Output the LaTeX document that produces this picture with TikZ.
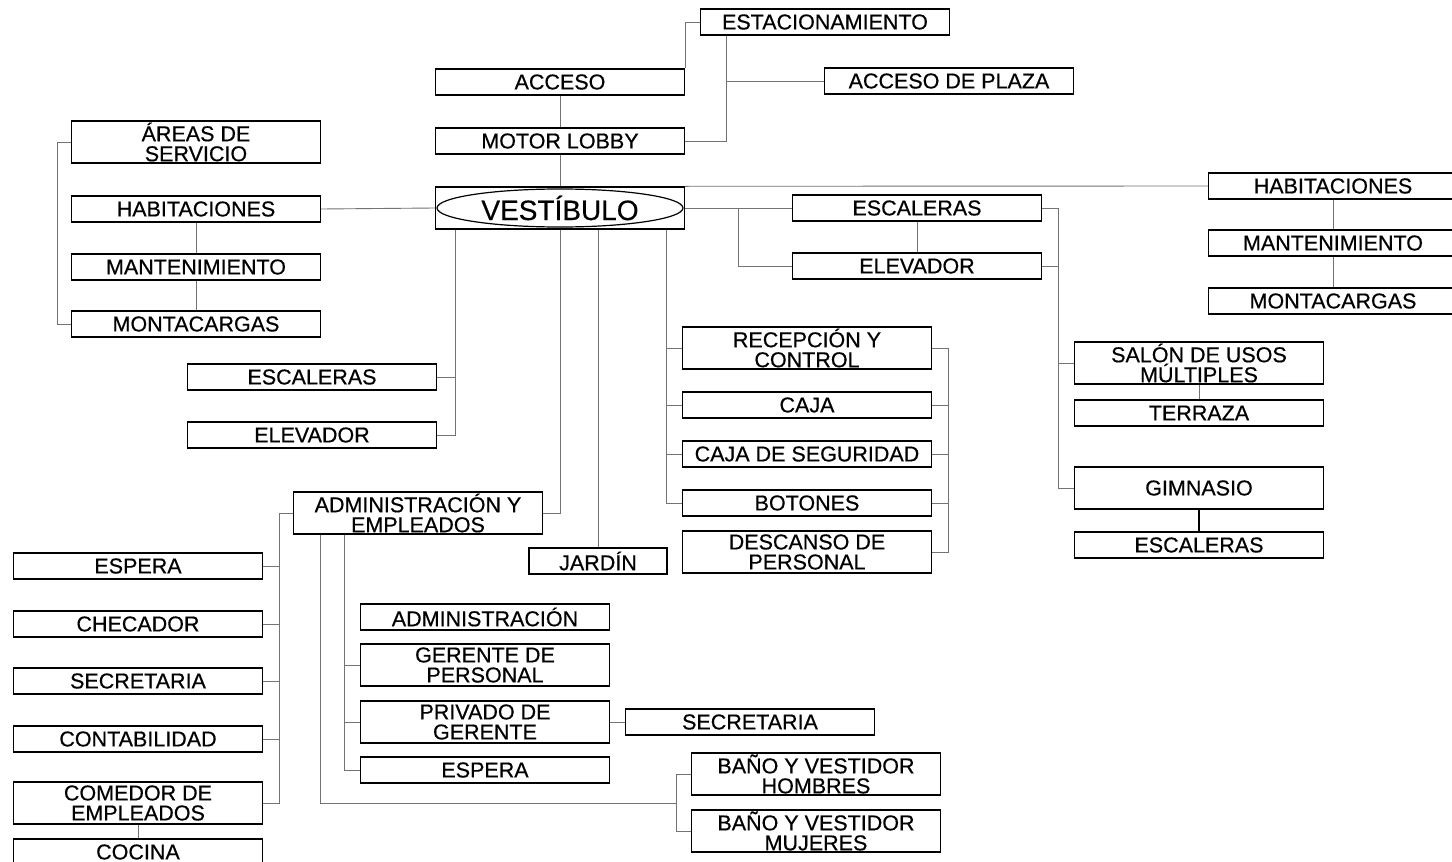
\documentclass[tikz,border=0pt]{standalone}
\usepackage{fontspec}
\setmainfont[FakeBold=0.5]{Liberation Sans}
\begin{document}
\begin{tikzpicture}[x=1pt,y=-1pt,
  box/.style={draw, line width=1.4pt, minimum width=249pt, minimum height=26pt, inner sep=0pt, align=center, font=\fontsize{21.5}{20}\selectfont},
  tall/.style={box, minimum height=42pt},
  conn/.style={draw=black!55, line width=0.9pt}]
\useasboundingbox (0,0) rectangle (1452,862);
\fill[white] (0,0) rectangle (1452,862);
% top
\node[box] (est) at (825,22) {ESTACIONAMIENTO};
\node[box] (acc) at (560,82) {ACCESO};
\node[box] (plaza) at (949,81) {ACCESO DE PLAZA};
\node[box] (motor) at (560,141) {MOTOR LOBBY};
\node[box, minimum height=42pt, font=\fontsize{28}{28}\selectfont] (vest) at (560,208) {VESTÍBULO};
\draw[line width=1.2pt] (vest.center) ellipse [x radius=123pt, y radius=19pt];
% left
\node[tall] (areas) at (196,142) {ÁREAS DE\\SERVICIO};
\node[box] (habL) at (196,209) {HABITACIONES};
\node[box] (manL) at (196,267) {MANTENIMIENTO};
\node[box] (monL) at (196,324) {MONTACARGAS};
\node[box] (escL) at (312,377) {ESCALERAS};
\node[box] (eleL) at (312,435) {ELEVADOR};
% middle right
\node[box] (escM) at (917,208) {ESCALERAS};
\node[box] (eleM) at (917,266) {ELEVADOR};
\node[box] (habR) at (1333,186) {HABITACIONES};
\node[box] (manR) at (1333,243) {MANTENIMIENTO};
\node[box] (monR) at (1333,301) {MONTACARGAS};
\node[tall] (recep) at (807,348) {RECEPCIÓN Y\\CONTROL};
\node[box] (caja) at (807,405) {CAJA};
\node[box] (cajaseg) at (807,454) {CAJA DE SEGURIDAD};
\node[box] (boton) at (807,503) {BOTONES};
\node[tall] (desc) at (807,552) {DESCANSO DE\\PERSONAL};
\node[tall] (salon) at (1199,363) {SALÓN DE USOS\\MÚLTIPLES};
\node[box] (terr) at (1199,413) {TERRAZA};
\node[tall] (gimn) at (1199,488) {GIMNASIO};
\node[box] (escR) at (1199,545) {ESCALERAS};
% lower
\node[tall] (adm) at (418,513) {ADMINISTRACIÓN Y\\EMPLEADOS};
\node[box, minimum width=138pt] (jard) at (598,561) {JARDÍN};
\node[box] (espL) at (138,566) {ESPERA};
\node[box] (chec) at (138,624) {CHECADOR};
\node[box] (secL) at (138,681) {SECRETARIA};
\node[box] (cont) at (138,739) {CONTABILIDAD};
\node[tall] (come) at (138,803) {COMEDOR DE\\EMPLEADOS};
\node[box] (coc) at (138,852) {COCINA};
\node[box] (admin) at (485,617) {ADMINISTRACIÓN};
\node[tall] (gerP) at (485,665) {GERENTE DE\\PERSONAL};
\node[tall] (priv) at (485,722) {PRIVADO DE\\GERENTE};
\node[box] (secR) at (750,722) {SECRETARIA};
\node[box] (espM) at (485,770) {ESPERA};
\node[tall] (banH) at (816,774) {BAÑO Y VESTIDOR\\HOMBRES};
\node[tall] (banM) at (816,831) {BAÑO Y VESTIDOR\\MUJERES};
% bus coordinates
\coordinate (bm) at (726,0);
\coordinate (bl) at (57,0);
\coordinate (b1) at (455,0);
\coordinate (b2) at (666,0);
\coordinate (b3) at (948,0);
\coordinate (b4) at (738,0);
\coordinate (b5) at (1058,0);
\coordinate (b6) at (279,0);
\coordinate (b7) at (344,0);
\coordinate (b8) at (320,0);
\coordinate (b9) at (676,0);
\coordinate (y8) at (0,803);
% connectors top
\draw[conn] (acc.south) -- (motor.north);
\draw[conn] (motor.south) -- (vest.north);
\draw[conn] (est.west) -| (acc.north east);
\draw[conn] (motor.east) -| (est.south -| bm);
\draw[conn] (plaza.west) -- (plaza.west -| bm);
\draw[conn] (vest.north east) -- (habR.west);
\draw[conn] (habR.south) -- (manR.north);
\draw[conn] (manR.south) -- (monR.north);
% left
\draw[conn] (habL.east) -- (vest.west);
\draw[conn] (areas.west) -| (monL.west -| bl) -- (monL.west);
\draw[conn] (habL.south) -- (manL.north);
\draw[conn] (manL.south) -- (monL.north);
\draw[conn] (vest.south -| b1) |- (eleL.east);
\draw[conn] (escL.east) -- (escL.east -| b1);
% down
\draw[conn] (vest.south) |- (adm.east);
\draw[conn] (vest.south -| jard.north) -- (jard.north);
\draw[conn] (vest.south -| b2) |- (boton.west);
\draw[conn] (recep.west) -- (recep.west -| b2);
\draw[conn] (caja.west) -- (caja.west -| b2);
\draw[conn] (cajaseg.west) -- (cajaseg.west -| b2);
\draw[conn] (recep.east) -| (desc.east -| b3) -- (desc.east);
\draw[conn] (caja.east) -- (caja.east -| b3);
\draw[conn] (cajaseg.east) -- (cajaseg.east -| b3);
\draw[conn] (boton.east) -- (boton.east -| b3);
% right
\draw[conn] (vest.east) -- (escM.west);
\draw[conn] (vest.east -| b4) |- (eleM.west);
\draw[conn] (escM.south) -- (eleM.north);
\draw[conn] (escM.east) -| (gimn.west -| b5) -- (gimn.west);
\draw[conn] (eleM.east) -- (eleM.east -| b5);
\draw[conn] (salon.west) -- (salon.west -| b5);
\draw[conn] (salon.south) -- (terr.north);
\draw[line width=1.4pt] (gimn.south) -- (escR.north);
% administration
\draw[conn] (adm.west) -| (come.east -| b6) -- (come.east);
\draw[conn] (espL.east) -- (espL.east -| b6);
\draw[conn] (chec.east) -- (chec.east -| b6);
\draw[conn] (secL.east) -- (secL.east -| b6);
\draw[conn] (cont.east) -- (cont.east -| b6);
\draw[conn] (come.south) -- (coc.north);
\draw[conn] (adm.south -| b7) |- (espM.west);
\draw[conn] (gerP.west) -- (gerP.west -| b7);
\draw[conn] (priv.west) -- (priv.west -| b7);
\draw[conn] (priv.east) -- (secR.west);
\draw[conn] (adm.south -| b8) -- (b8 |- y8) -- (b9 |- y8);
\draw[conn] (banH.west) -| (banM.west -| b9) -- (banM.west);
\end{tikzpicture}
\end{document}
